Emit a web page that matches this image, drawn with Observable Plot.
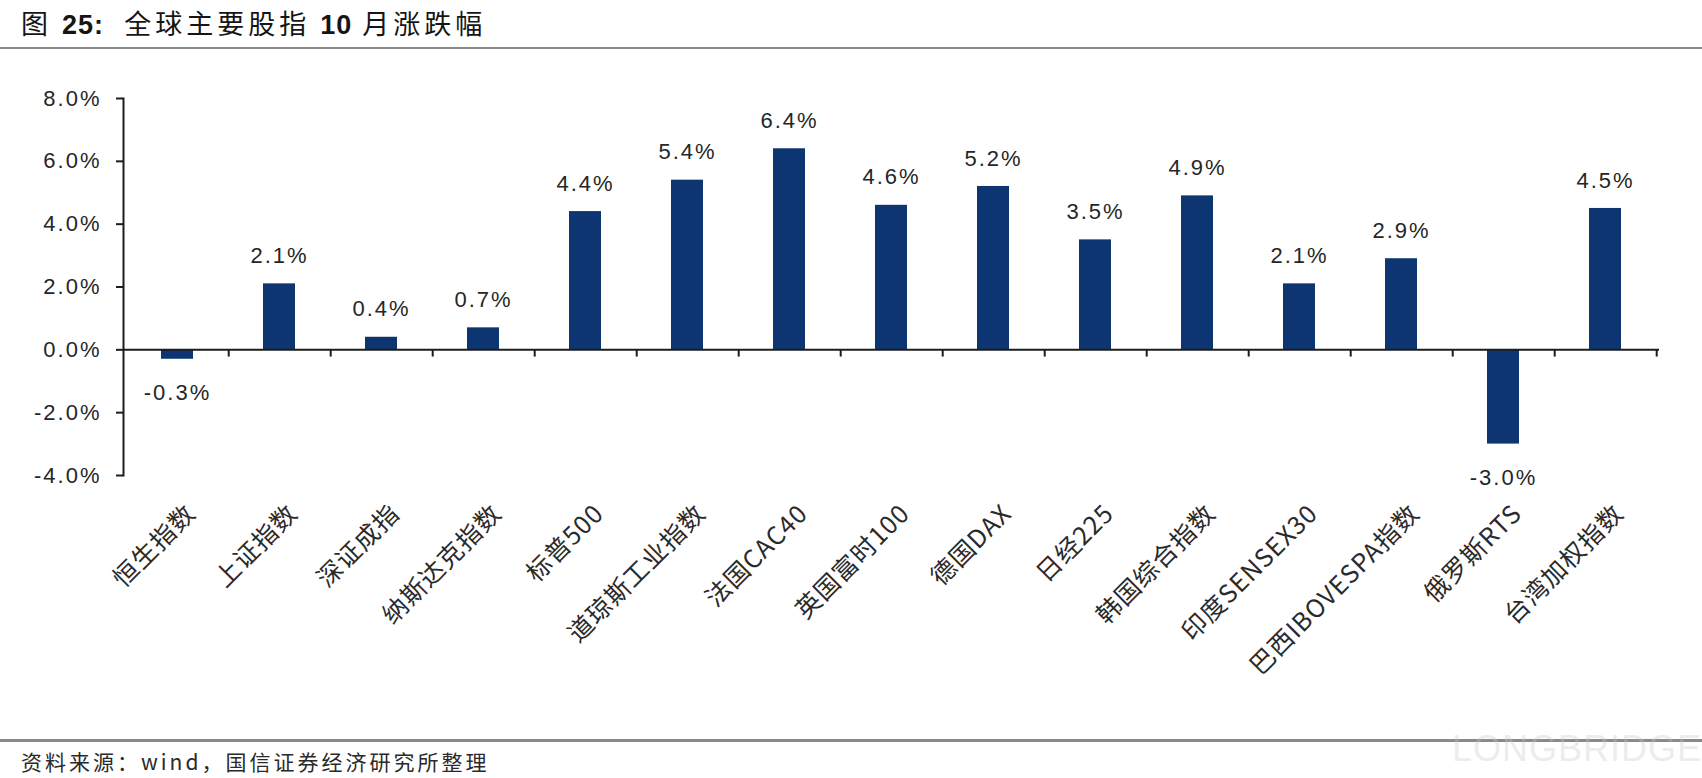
<!DOCTYPE html>
<html>
<head>
<meta charset="utf-8">
<script src="https://cdn.jsdelivr.net/npm/d3@7"></script>
<script src="https://cdn.jsdelivr.net/npm/@observablehq/plot@0.6"></script>
<style>
  html, body { margin: 0; padding: 0; background: #fff; }
  body { width: 1702px; height: 778px; overflow: hidden; position: relative; font-family: "Noto Sans CJK SC", sans-serif; color: #222; }
  #title { position: absolute; left: 21px; top: 3px; font-size: 27px; line-height: 40px; letter-spacing: 4px; white-space: nowrap; color: #151515; }
  #title b { font-family: "Liberation Sans", Arial, sans-serif; font-weight: bold; letter-spacing: 1px; }
  #topline { position: absolute; left: 0; top: 47px; width: 1702px; height: 2px; background: #8a8a8a; }
  #chart { position: absolute; left: 0; top: 50px; }
  #botline { position: absolute; left: 0; top: 739px; width: 1702px; height: 3px; background: #8a8a8a; }
  #source { position: absolute; left: 21px; top: 746px; font-size: 21px; line-height: 30px; letter-spacing: 3px; white-space: nowrap; color: #2a2a2a; }
  #wm { position: absolute; left: 1452px; top: 728px; font-family: "Liberation Sans", Arial, sans-serif; font-size: 36px; letter-spacing: 1px; color: rgba(200,200,200,0.35); white-space: nowrap; }
  svg text.num { letter-spacing: 2px; }
  svg g.xlab text { letter-spacing: 1px; }
</style>
</head>
<body>
<div id="title">图 <b>25:</b>&nbsp; 全球主要股指 <b>10</b> 月涨跌幅</div>
<div id="topline"></div>
<div id="chart"></div>
<div id="botline"></div>
<div id="source">资料来源：wind，国信证券经济研究所整理</div>
<div id="wm">LONGBRIDGE</div>
<script>
// ---- data ----
const categories = ["恒生指数", "上证指数", "深证成指", "纳斯达克指数", "标普500", "道琼斯工业指数", "法国CAC40", "英国富时100", "德国DAX", "日经225", "韩国综合指数", "印度SENSEX30", "巴西IBOVESPA指数", "俄罗斯RTS", "台湾加权指数"];
const changes = [-0.3, 2.1, 0.4, 0.7, 4.4, 5.4, 6.4, 4.6, 5.2, 3.5, 4.9, 2.1, 2.9, -3.0, 4.5];
const yTicks = [-4, -2, 0, 2, 4, 6, 8];

const data = categories.map((c, i) => ({c, v: changes[i]}));
const fmt = d => d.toFixed(1) + "%";

const W = 1702, H = 690;
const mL = 123, mR = 43, mT = 48, mB = 265;
const step = (W - mL - mR) / categories.length;
const navy = "#0c3571";
const ink = "#1c1c1c";
const numFont = "'Liberation Sans', Arial, sans-serif";

const chart = Plot.plot({
  width: W,
  height: H,
  marginLeft: mL,
  marginRight: mR,
  marginTop: mT,
  marginBottom: mB,
  style: {fontFamily: numFont, fontSize: "22px", color: "#262626", background: "white", overflow: "visible"},
  x: {domain: categories, paddingInner: 0.69, paddingOuter: 0.345, label: null, axis: null},
  y: {domain: [-4, 8], label: null},
  marks: [
    Plot.barY(data, {x: "c", y: "v", fill: navy}),
    Plot.ruleY([0], {stroke: ink, strokeWidth: 2}),
    Plot.ruleX(categories, {x: d => d, dx: step / 2, y1: 0, y2: -0.23, stroke: ink, strokeWidth: 2}),
    Plot.frame({anchor: "left", stroke: ink, strokeWidth: 2}),
    Plot.axisY({ticks: yTicks, tickFormat: fmt, tickSize: 7, tickPadding: 15, stroke: ink, strokeWidth: 2, fontSize: 22, fill: "#262626", className: "yax"}),
    Plot.text(categories, {x: d => d, frameAnchor: "bottom", rotate: -45, textAnchor: "end", lineAnchor: "middle", dx: 14, dy: 34, fontSize: 25, fontFamily: "Noto Sans CJK SC", fill: "#2a2a2a", className: "xlab"}),
    Plot.text(data.filter(d => d.v >= 0), {x: "c", y: "v", text: d => fmt(d.v), dy: -28, lineAnchor: "middle", fontSize: 22, fill: "#262626", className: "vlab"}),
    Plot.text(data.filter(d => d.v < 0), {x: "c", y: "v", text: d => fmt(d.v), dy: 34, lineAnchor: "middle", fontSize: 22, fill: "#262626", className: "vlab"})
  ]
});
document.getElementById("chart").appendChild(chart);
chart.querySelectorAll("g.yax text, g.vlab text").forEach(t => t.classList.add("num"));
</script>
</body>
</html>
